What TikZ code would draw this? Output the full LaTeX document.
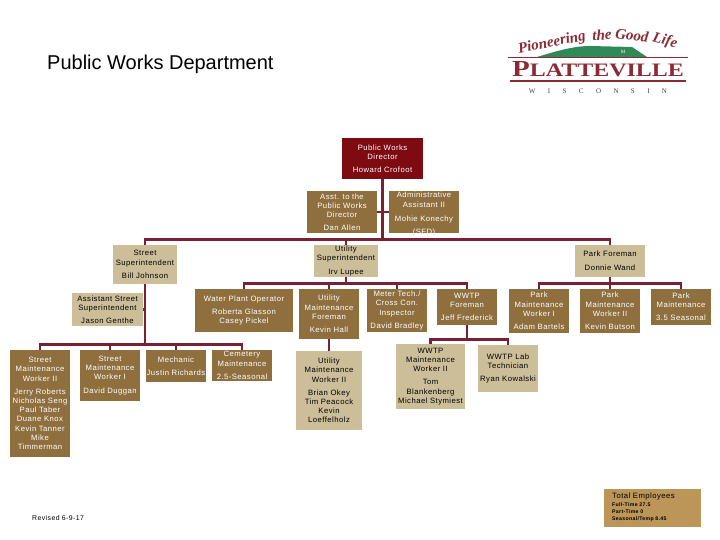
\documentclass[tikz,border=0pt]{standalone}
\usepackage{fontspec}
\setmainfont{Liberation Sans}
\newfontfamily\boxfont[LetterSpace=6]{Liberation Sans}
\newfontfamily\logofont{Liberation Serif}
\newfontfamily\platfont[FakeStretch=1.26]{Liberation Serif}
\usetikzlibrary{positioning}
\definecolor{dirred}{HTML}{7E0A12}
\definecolor{brownfill}{HTML}{8F6F3E}
\definecolor{tanfill}{HTML}{CDBE9A}
\definecolor{totalfill}{HTML}{BC9558}
\definecolor{linkred}{HTML}{7A2035}
\definecolor{logored}{HTML}{8A2A35}
\definecolor{logogreen}{HTML}{2E8B57}
\newcommand{\statline}{\fontsize{5.2}{7}\selectfont\bfseries}

\begin{document}
\begin{tikzpicture}[x=1pt,y=-1pt,
  box/.style={inner sep=0pt, align=center, font=\boxfont\fontsize{7.7}{9.2}\selectfont},
  redbox/.style={box, fill=dirred, text=white},
  brownbox/.style={box, fill=brownfill, text=white},
  tanbox/.style={box, fill=tanfill, text=black},
  slogan/.style={text=logored, font=\logofont\itshape\bfseries\fontsize{15}{15}\selectfont},
  link/.style={draw=linkred, line width=2.6pt}
]
\useasboundingbox (0,0) rectangle (720,540);

\node[anchor=west, inner sep=0pt, font=\fontsize{20}{22}\selectfont] (title) at (47,64) {Public Works Department};

% Director and staff
\node[redbox, minimum width=81pt, minimum height=41pt] (director) at (382.5,158.5) {Public Works\\Director\\[3.5pt]Howard Crofoot};
\node[brownbox, minimum width=70pt, minimum height=42pt] (asstdir) at (342,212) {Asst. to the\\Public Works\\Director\\[3.5pt]Dan Allen};
\node[brownbox, inner ysep=-3pt, minimum width=70pt, minimum height=42pt] (admin) at (424,212) {\rule{0pt}{9.6pt}Administrative\\Assistant II\\[5pt]Mohie Konechy\\[3.5pt](SFD)};

% Superintendents
\node[tanbox, minimum width=64pt, minimum height=39pt] (streetsup) at (145,264.5) {Street\\Superintendent\\[4pt]Bill Johnson};
\node[tanbox, minimum width=64pt, minimum height=32pt] (utilsup) at (346,261) {Utility\\Superintendent\\[4pt]Irv Lupee};
\node[tanbox, minimum width=70pt, minimum height=32pt] (parksup) at (610,261) {Park Foreman\\[5pt]Donnie Wand};

% Second row
\node[tanbox, minimum width=71pt, minimum height=33pt] (asststreet) at (107.5,309.5) {Assistant Street\\Superintendent\\[4pt]Jason Genthe};
\node[brownbox, minimum width=98pt, minimum height=43pt] (water) at (244,310.5) {Water Plant Operator\\[4pt]Roberta Glasson\\Casey Pickel};
\node[brownbox, minimum width=60pt, minimum height=50pt] (utilforeman) at (329,314) {Utility\\Maintenance\\Foreman\\[4pt]Kevin Hall};
\node[brownbox, minimum width=60pt, minimum height=43pt] (meter) at (397,310.5) {Meter Tech./\\Cross Con.\\Inspector\\[4pt]David Bradley};
\node[brownbox, minimum width=60pt, minimum height=36pt] (wwtp) at (467,307) {WWTP\\Foreman\\[4pt]Jeff Frederick};
\node[brownbox, minimum width=60pt, minimum height=44pt] (parkone) at (539,311) {Park\\Maintenance\\Worker I\\[4pt]Adam Bartels};
\node[brownbox, minimum width=60pt, minimum height=44pt] (parktwo) at (610,311) {Park\\Maintenance\\Worker II\\[4pt]Kevin Butson};
\node[brownbox, minimum width=60pt, minimum height=36pt] (parkseas) at (681,307) {Park\\Maintenance\\[4pt]3.5 Seasonal};

% Third row
\node[brownbox, minimum width=60pt, minimum height=107pt] (streettwo) at (40,403.5) {Street\\Maintenance\\Worker II\\[4pt]Jerry Roberts\\Nicholas Seng\\Paul Taber\\Duane Knox\\Kevin Tanner\\Mike\\Timmerman};
\node[brownbox, minimum width=60pt, minimum height=51pt] (streetone) at (110,375.5) {Street\\Maintenance\\Worker I\\[4pt]David Duggan};
\node[brownbox, minimum width=60pt, minimum height=32pt] (mechanic) at (176,366) {Mechanic\\[4pt]Justin Richards};
\node[brownbox, minimum width=60pt, minimum height=31pt] (cemetery) at (242,365.5) {Cemetery\\Maintenance\\[4pt]2.5-Seasonal};
\node[tanbox, minimum width=66pt, minimum height=79pt] (utilworker) at (329,390.5) {Utility\\Maintenance\\Worker II\\[4pt]Brian Okey\\Tim Peacock\\Kevin\\Loeffelholz};
\node[tanbox, minimum width=69pt, minimum height=65pt] (wwtpworker) at (430.5,376.5) {WWTP\\Maintenance\\Worker II\\[4pt]Tom\\Blankenberg\\Michael Stymiest};
\node[tanbox, minimum width=60pt, minimum height=47pt] (wwtplab) at (508,368.5) {WWTP Lab\\Technician\\[4pt]Ryan Kowalski};

% Footer
\node[anchor=west, inner sep=0pt, font=\boxfont\fontsize{6.9}{8}\selectfont] (revised) at (32,518) {Revised 6-9-17};
\node[fill=totalfill, minimum width=97pt, minimum height=38pt] (total) at (652.5,508) {};
\node[anchor=north west, inner sep=0pt, align=left, font=\boxfont\fontsize{7.7}{9}\selectfont] (totaltext) at (612,493) {Total Employees\\[-1.5pt]\statline Full-Time 27.5\\[-2pt]\statline Part-Time 0\\[-2pt]\statline Seasonal/Temp 8.45};

% Connectors
\draw[link] (director.south) -- ++(0,60) -| (streetsup.north);
\draw[link] (director.south) -- ++(0,60) -| (utilsup.north);
\draw[link] (director.south) -- ++(0,60) -| (parksup.north);
\draw[link] (asstdir.east) -- (admin.west);

\draw[link] (streetsup.south) -- ++(0,60) -| (streettwo.north);
\draw[link] (streetsup.south) -- ++(0,60) -| (streetone.north);
\draw[link] (streetsup.south) -- ++(0,60) -| (mechanic.north);
\draw[link] (streetsup.south) -- ++(0,60) -| (cemetery.north);
\draw[link] (asststreet.east) -- (asststreet.east -| streetsup.south);

\draw[link] (utilsup.south) -- ++(0,6) -| (water.north);
\draw[link] (utilsup.south) -- ++(0,6) -| (utilforeman.north);
\draw[link] (utilsup.south) -- ++(0,6) -| (meter.north);
\draw[link] (utilsup.south) -- ++(0,6) -| (wwtp.north);
\draw[link] (utilforeman) -- (utilworker);
\draw[link] (wwtp.south) -- ++(0,14) -| (wwtpworker.north);
\draw[link] (wwtp.south) -- ++(0,14) -| (wwtplab.north);

\draw[link] (parksup.south) -- ++(0,6) -| (parkone.north);
\draw[link] (parksup.south) -- (parktwo.north);
\draw[link] (parksup.south) -- ++(0,6) -| (parkseas.north);

% Logo
\fill[logogreen] (537,57) .. controls (560,50) and (575,46) .. (590,46) -- (632,47) -- (647,57) -- cycle;
\draw[logored, line width=.6pt] (508,57.5) -- (688,57.5);
\draw[logored, line width=1.2pt] (510,81) -- (686,81);
\node[text=white, font=\logofont\fontsize{5}{5}\selectfont] (logom) at (623,52) {M};
\node[slogan, rotate=11] (pioneering) at (552,43) {Pioneering};
\node[slogan, rotate=3] (logothe) at (602,35) {the};
\node[slogan, rotate=-7] (good) at (632,35) {Good};
\node[slogan, rotate=-15] (life) at (665,41) {Life};
\node[text=logored, font=\platfont\bfseries\fontsize{23}{23}\selectfont, inner sep=0pt] (platteville) at (598,69.5) {P\fontsize{19}{23}\selectfont LATTEVILLE};
\node[text=black!75, font=\logofont\fontsize{7}{7}\selectfont, inner sep=0pt] (wisconsin) at (598,91) {W\hspace{12.4pt}I\hspace{12.4pt}S\hspace{12.4pt}C\hspace{12.4pt}O\hspace{12.4pt}N\hspace{12.4pt}S\hspace{12.4pt}I\hspace{12.4pt}N};
\end{tikzpicture}
\end{document}
